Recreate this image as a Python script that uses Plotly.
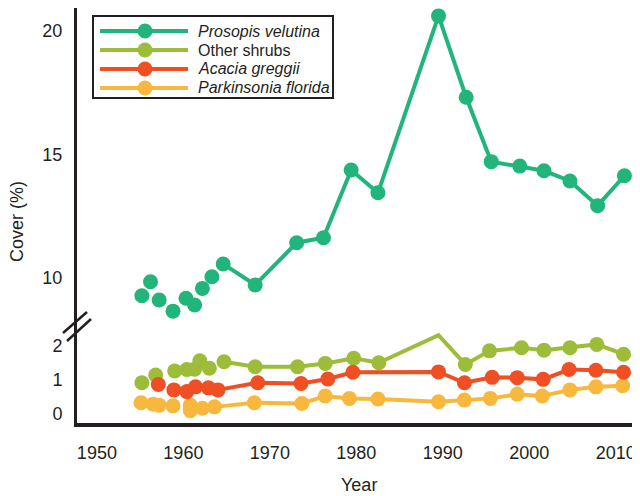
import plotly.graph_objects as go

# ---------------- data ----------------
series_names = ["Prosopis velutina", "Other shrubs", "Acacia greggii", "Parkinsonia florida"]
series_colors = ["#21b57b", "#9dbd3a", "#f04e23", "#f8b83e"]
series_italic = [True, False, True, True]

# Prosopis velutina (upper panel)
pv_early_year = [1955.2, 1956.2, 1957.2, 1958.8, 1960.3, 1961.3, 1962.2, 1963.3]
pv_early_cover = [9.28, 9.85, 9.11, 8.66, 9.18, 8.91, 9.58, 10.05]
pv_year = [1964.6, 1968.3, 1973.1, 1976.2, 1979.4, 1982.5, 1989.5, 1992.7, 1995.6, 1998.9, 2001.7, 2004.7, 2007.9, 2011.0]
pv_cover = [10.57, 9.72, 11.43, 11.63, 14.37, 13.45, 20.61, 17.32, 14.71, 14.53, 14.34, 13.93, 12.93, 14.14]

# Other shrubs (lower panel)
os_early_year = [1955.2, 1956.8, 1959.0, 1960.4, 1961.3, 1961.9, 1963.0]
os_early_cover = [0.92, 1.15, 1.27, 1.31, 1.32, 1.57, 1.35]
os_year = [1964.7, 1968.3, 1973.2, 1976.4, 1979.7, 1982.6, 1989.5, 1992.6, 1995.4, 1999.1, 2001.7, 2004.7, 2007.8, 2010.9]
os_cover = [1.54, 1.39, 1.39, 1.49, 1.64, 1.51, 2.32, 1.46, 1.86, 1.95, 1.88, 1.95, 2.05, 1.76]
os_marker_shown = [1, 1, 1, 1, 1, 1, 0, 1, 1, 1, 1, 1, 1, 1]

# Acacia greggii (lower panel)
ag_early_year = [1957.1, 1958.9, 1960.4, 1961.4, 1962.9]
ag_early_cover = [0.87, 0.71, 0.66, 0.80, 0.77]
ag_year = [1964.0, 1968.6, 1973.6, 1976.7, 1979.6, 1989.5, 1992.5, 1995.7, 1998.6, 2001.6, 2004.6, 2007.7, 2010.9]
ag_cover = [0.71, 0.92, 0.90, 1.03, 1.23, 1.24, 0.92, 1.08, 1.07, 1.02, 1.31, 1.29, 1.23]

# Parkinsonia florida (lower panel)
pf_early_year = [1955.1, 1956.5, 1957.2, 1958.8, 1960.8, 1960.8, 1962.2]
pf_early_cover = [0.33, 0.29, 0.26, 0.24, 0.26, 0.10, 0.17]
pf_year = [1963.6, 1968.2, 1973.7, 1976.4, 1979.2, 1982.5, 1989.5, 1992.5, 1995.5, 1998.6, 2001.5, 2004.7, 2007.7, 2010.8]
pf_cover = [0.21, 0.33, 0.31, 0.53, 0.46, 0.44, 0.36, 0.41, 0.46, 0.58, 0.53, 0.71, 0.80, 0.83]

x_ticks = [1950, 1960, 1970, 1980, 1990, 2000, 2010]
upper_ticks = [10, 15, 20]
lower_ticks = [0, 1, 2]

# ---------------- styling ----------------
INK = "#231f20"
FONT = "Arial, Liberation Sans, sans-serif"
MS = 15
LW = 4
# figure is placed at an 8px page offset; layout numbers below are in screen pixels
OFF = 8
W, H = 640 - OFF, 496 - OFF
X_LEFT, X_RIGHT = 77, 640      # plot area, screen px
Y_TOP, Y_BOT = 8, 423
ML, MR = X_LEFT - OFF, (640 - X_RIGHT)
MT, MB = Y_TOP - OFF, H - (Y_BOT - OFF)
PW, PH = X_RIGHT - X_LEFT, Y_BOT - Y_TOP
split = (Y_BOT - 323) / PH


def px(x):
    return (x - X_LEFT) / PW


def py(y):
    return (Y_BOT - y) / PH


fig = go.Figure()


def add_series(xe, ye, xm, ym, color, yaxis, shown=None):
    if shown is None:
        shown = [1] * len(xm)
    mx = [x for x, s in zip(xm, shown) if s]
    my = [y for y, s in zip(ym, shown) if s]
    # connected part: line first, then its markers on top
    fig.add_trace(go.Scatter(x=xm, y=ym, mode="lines", yaxis=yaxis,
                             line=dict(color=color, width=LW),
                             showlegend=False, cliponaxis=False, hoverinfo="skip"))
    fig.add_trace(go.Scatter(x=mx, y=my, mode="markers", yaxis=yaxis,
                             marker=dict(size=MS, color=color, opacity=1, line=dict(width=0)),
                             showlegend=False, cliponaxis=False, hoverinfo="x+y"))
    # early, unconnected samples
    fig.add_trace(go.Scatter(x=xe, y=ye, mode="markers", yaxis=yaxis,
                             marker=dict(size=MS, color=color, opacity=1, line=dict(width=0)),
                             showlegend=False, cliponaxis=False, hoverinfo="x+y"))


add_series(pv_early_year, pv_early_cover, pv_year, pv_cover, series_colors[0], "y2")
add_series(pf_early_year, pf_early_cover, pf_year, pf_cover, series_colors[3], "y")
add_series(os_early_year, os_early_cover, os_year, os_cover, series_colors[1], "y",
           shown=os_marker_shown)
add_series(ag_early_year, ag_early_cover, ag_year, ag_cover, series_colors[2], "y")

shapes = []
annotations = []

# legend (drawn manually to match long line samples)
box = dict(x0=93, x1=333, y0=16, y1=98)
shapes.append(dict(type="rect", xref="paper", yref="paper",
                   x0=px(box["x0"]), x1=px(box["x1"]), y0=py(box["y1"]), y1=py(box["y0"]),
                   line=dict(color=INK, width=2), fillcolor="white", layer="above"))
row_y = [31, 50, 69, 88]
for name, col, it, ry in zip(series_names, series_colors, series_italic, row_y):
    shapes.append(dict(type="line", xref="paper", yref="paper",
                       x0=px(100), x1=px(188), y0=py(ry), y1=py(ry),
                       line=dict(color=col, width=LW), layer="above"))
    shapes.append(dict(type="circle", xref="paper", yref="paper",
                       xsizemode="pixel", ysizemode="pixel",
                       xanchor=px(145), yanchor=py(ry),
                       x0=-7.5, x1=7.5, y0=-7.5, y1=7.5,
                       fillcolor=col, line=dict(width=0), layer="above"))
    annotations.append(dict(xref="paper", yref="paper", x=px(196), y=py(ry),
                            xanchor="left", yanchor="middle", showarrow=False,
                            text=f"<i>{name}</i>" if it else name,
                            font=dict(size=16, color=INK, family=FONT)))

# axis break marks
for (x0, y0, x1, y1) in [(63, 333, 87, 312), (67, 341, 91, 319)]:
    shapes.append(dict(type="line", xref="paper", yref="paper",
                       x0=px(x0), y0=py(y0), x1=px(x1), y1=py(y1),
                       line=dict(color=INK, width=2.5), layer="above"))

# axis titles
annotations.append(dict(xref="paper", yref="paper", x=px(17), y=py(222),
                        text="Cover (%)", textangle=-90, showarrow=False,
                        xanchor="center", yanchor="middle",
                        font=dict(size=18, color=INK, family=FONT)))
annotations.append(dict(xref="paper", yref="paper", x=0.5, y=py(485),
                        text="Year", showarrow=False,
                        xanchor="center", yanchor="middle",
                        font=dict(size=18, color=INK, family=FONT)))

fig.update_layout(
    width=W, height=H,
    margin=dict(l=ML, r=MR, t=MT, b=MB, pad=0),
    paper_bgcolor="white", plot_bgcolor="white",
    showlegend=False,
    font=dict(family=FONT, color=INK, size=18),
    xaxis=dict(domain=[0, 1], range=[1947.7, 2012.8], anchor="y",
               tickvals=x_ticks, ticks="outside", ticklen=10,
               tickcolor="rgba(0,0,0,0)", showgrid=False, zeroline=False,
               showline=True, linecolor=INK, linewidth=4,
               tickfont=dict(size=18, color=INK, family=FONT)),
    yaxis=dict(domain=[0, split], range=[-0.265, 2.68], anchor="x",
               tickvals=lower_ticks, ticks="outside", ticklen=8,
               tickcolor="rgba(0,0,0,0)", showgrid=False, zeroline=False,
               showline=True, linecolor=INK, linewidth=3,
               tickfont=dict(size=18, color=INK, family=FONT)),
    yaxis2=dict(domain=[split, 1], range=[8.18, 20.93], anchor="x",
                tickvals=upper_ticks, ticks="outside", ticklen=8,
                tickcolor="rgba(0,0,0,0)", showgrid=False, zeroline=False,
                showline=True, linecolor=INK, linewidth=3,
                tickfont=dict(size=18, color=INK, family=FONT)),
    shapes=shapes,
    annotations=annotations,
)

fig.write_html("out.html")
